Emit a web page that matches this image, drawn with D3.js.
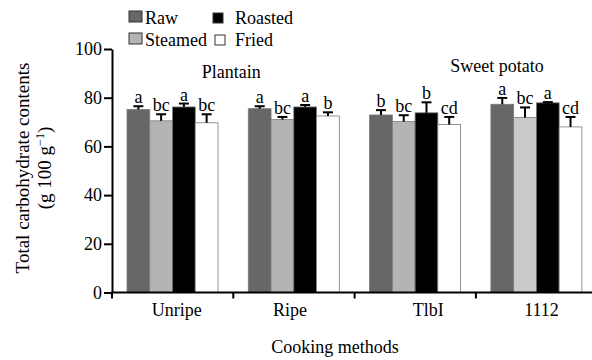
<!DOCTYPE html>
<html>
<head>
<meta charset="utf-8">
<script src="https://cdn.jsdelivr.net/npm/d3@7"></script>
<style>
  body { margin: 0; background: #fff; }
  svg text { font-family: "Liberation Serif", "Times New Roman", serif; fill: #000; }
</style>
</head>
<body>
<div id="chart"></div>
<script>
const groups = ["Unripe", "Ripe", "TlbI", "1112"];
const methods = ["Raw", "Steamed", "Roasted", "Fried"];
const rawMeans = [75.2, 75.5, 72.9, 77.3];
const rawErr = [1.3, 1.0, 2.0, 2.6];
const steamedMeans = [70.5, 71.0, 70.2, 71.9];
const steamedErr = [2.7, 1.1, 2.6, 4.1];
const roastedMeans = [76.2, 76.2, 73.8, 77.9];
const roastedErr = [1.4, 0.8, 4.3, 0.3];
const friedMeans = [69.7, 72.5, 69.0, 68.0];
const friedErr = [3.5, 1.5, 3.1, 4.1];
const rawLetters = ["a", "a", "b", "a"];
const steamedLetters = ["bc", "bc", "bc", "bc"];
const roastedLetters = ["a", "a", "b", "a"];
const friedLetters = ["bc", "b", "cd", "cd"];
const yTicks = [0, 20, 40, 60, 80, 100];
const crops = ["Plantain", "Sweet potato"];

const series = [
    { name: "Raw", means: rawMeans, err: rawErr, letters: rawLetters },
    { name: "Steamed", means: steamedMeans, err: steamedErr, letters: steamedLetters },
    { name: "Roasted", means: roastedMeans, err: roastedErr, letters: roastedLetters },
    { name: "Fried", means: friedMeans, err: friedErr, letters: friedLetters }
];

const rows = [];
groups.forEach((g, i) => {
    series.forEach(s => {
        rows.push({ group: g, method: s.name, value: s.means[i], err: s.err[i], letter: s.letters[i] });
    });
});

const width = 592, height = 360;
const color = d3.scaleOrdinal().domain(methods).range(["#676767", "#b4b4b4", "#000000", "#ffffff"]);

const svg = d3.select("#chart").append("svg")
    .attr("width", width)
    .attr("height", height);

const x0 = d3.scaleBand().domain(groups).range([112, 112 + 4 * 121.3]);
const x1 = d3.scaleBand().domain(methods).range([15, 106]);
const y = d3.scaleLinear().domain([0, 100]).range([292.5, 49]);

// bars (the sweet potato 1112 steamed bar is printed a shade lighter)
svg.append("g").selectAll("rect")
    .data(rows)
    .enter()
    .append("rect")
    .attr("x", d => x0(d.group) + x1(d.method))
    .attr("y", d => y(d.value))
    .attr("width", x1.bandwidth())
    .attr("height", d => y(0) - y(d.value))
    .attr("fill", d => (d.group === "1112" && d.method === "Steamed") ? "#cacaca" : color(d.method))
    .attr("stroke", "#7a7a7a")
    .attr("stroke-width", 0.8);

// error bars (upper only)
const eb = svg.append("g").attr("stroke", "#000").attr("stroke-width", 2);
eb.selectAll("line.v")
    .data(rows)
    .enter()
    .append("line")
    .attr("class", "v")
    .attr("x1", d => x0(d.group) + x1(d.method) + x1.bandwidth() / 2)
    .attr("x2", d => x0(d.group) + x1(d.method) + x1.bandwidth() / 2)
    .attr("y1", d => y(d.value))
    .attr("y2", d => y(d.value + d.err));
eb.selectAll("line.cap")
    .data(rows)
    .enter()
    .append("line")
    .attr("class", "cap")
    .attr("x1", d => x0(d.group) + x1(d.method) + x1.bandwidth() / 2 - 5)
    .attr("x2", d => x0(d.group) + x1(d.method) + x1.bandwidth() / 2 + 5)
    .attr("y1", d => y(d.value + d.err))
    .attr("y2", d => y(d.value + d.err));

// significance letters
svg.append("g").selectAll("text")
    .data(rows)
    .enter()
    .append("text")
    .attr("x", d => x0(d.group) + x1(d.method) + x1.bandwidth() / 2)
    .attr("y", d => y(d.value + d.err) - 3)
    .attr("text-anchor", "middle")
    .style("font-size", "18px")
    .text(d => d.letter);

// y axis
const yAxis = svg.append("g")
    .attr("transform", "translate(112,0)")
    .call(d3.axisLeft(y).tickValues(yTicks).tickSize(8).tickPadding(2).tickSizeOuter(0));
yAxis.select(".domain").attr("stroke-width", 2);
yAxis.selectAll(".tick line").attr("stroke-width", 2);
yAxis.selectAll(".tick text")
    .style("font-family", "'Liberation Serif', 'Times New Roman', serif")
    .style("font-size", "18px")
    .attr("fill", "#000");

// x axis: line with ticks at group boundaries
const xAxis = svg.append("g");
xAxis.append("line")
    .attr("x1", 111).attr("x2", width)
    .attr("y1", y(0)).attr("y2", y(0))
    .attr("stroke", "#000").attr("stroke-width", 2);
xAxis.selectAll("line.tick")
    .data(groups)
    .enter()
    .append("line")
    .attr("class", "tick")
    .attr("x1", d => x0(d)).attr("x2", d => x0(d))
    .attr("y1", y(0)).attr("y2", y(0) + 6)
    .attr("stroke", "#000").attr("stroke-width", 2);
const labelShift = [5, -3, 14, 6];
xAxis.selectAll("text")
    .data(groups)
    .enter()
    .append("text")
    .attr("x", (d, i) => x0(d) + x0.bandwidth() / 2 + labelShift[i] - 1)
    .attr("y", 316)
    .attr("text-anchor", "middle")
    .style("font-size", "18px")
    .text(d => d);

// crop labels
svg.append("text")
    .attr("x", x0("Ripe") - 2)
    .attr("y", 78)
    .attr("text-anchor", "middle")
    .style("font-size", "18px")
    .text(crops[0]);
svg.append("text")
    .attr("x", x0("1112") + 21)
    .attr("y", 72)
    .attr("text-anchor", "middle")
    .style("font-size", "18px")
    .text(crops[1]);

// axis titles
svg.append("text")
    .attr("x", 335)
    .attr("y", 353)
    .attr("text-anchor", "middle")
    .style("font-size", "18px")
    .text("Cooking methods");

const yTitle = svg.append("text")
    .attr("transform", "translate(29,168) rotate(-90)")
    .attr("text-anchor", "middle")
    .style("font-size", "19px");
yTitle.append("tspan").attr("x", 0).attr("y", 0).text("Total carbohydrate contents");
const line2 = yTitle.append("tspan").attr("x", 0).attr("y", 22);
line2.text("(g 100 g");
yTitle.append("tspan").attr("dy", -7).style("font-size", "12px").text("−1");
yTitle.append("tspan").attr("dy", 7).text(")");

// legend
const legendPos = [
    { x: 129, y: 24, sq: 13 },
    { x: 129, y: 46, sq: 13 },
    { x: 213, y: 24, sq: 10 },
    { x: 215, y: 46, sq: 10 }
];
const legendOrder = ["Raw", "Steamed", "Roasted", "Fried"];
const legend = svg.append("g").selectAll("g")
    .data(legendOrder)
    .enter()
    .append("g")
    .attr("transform", (d, i) => `translate(${legendPos[i].x},${legendPos[i].y})`);
legend.append("rect")
    .attr("x", 0)
    .attr("y", (d, i) => -legendPos[i].sq + (i < 2 ? 0 : -1))
    .attr("width", (d, i) => legendPos[i].sq)
    .attr("height", (d, i) => i < 2 ? 11 : legendPos[i].sq)
    .attr("fill", d => color(d))
    .attr("stroke", "#333")
    .attr("stroke-width", 1);
legend.append("text")
    .attr("x", (d, i) => i < 2 ? 16 : (i === 2 ? 22 : 20))
    .attr("y", 0)
    .style("font-size", "18px")
    .text(d => d);
</script>
</body>
</html>
